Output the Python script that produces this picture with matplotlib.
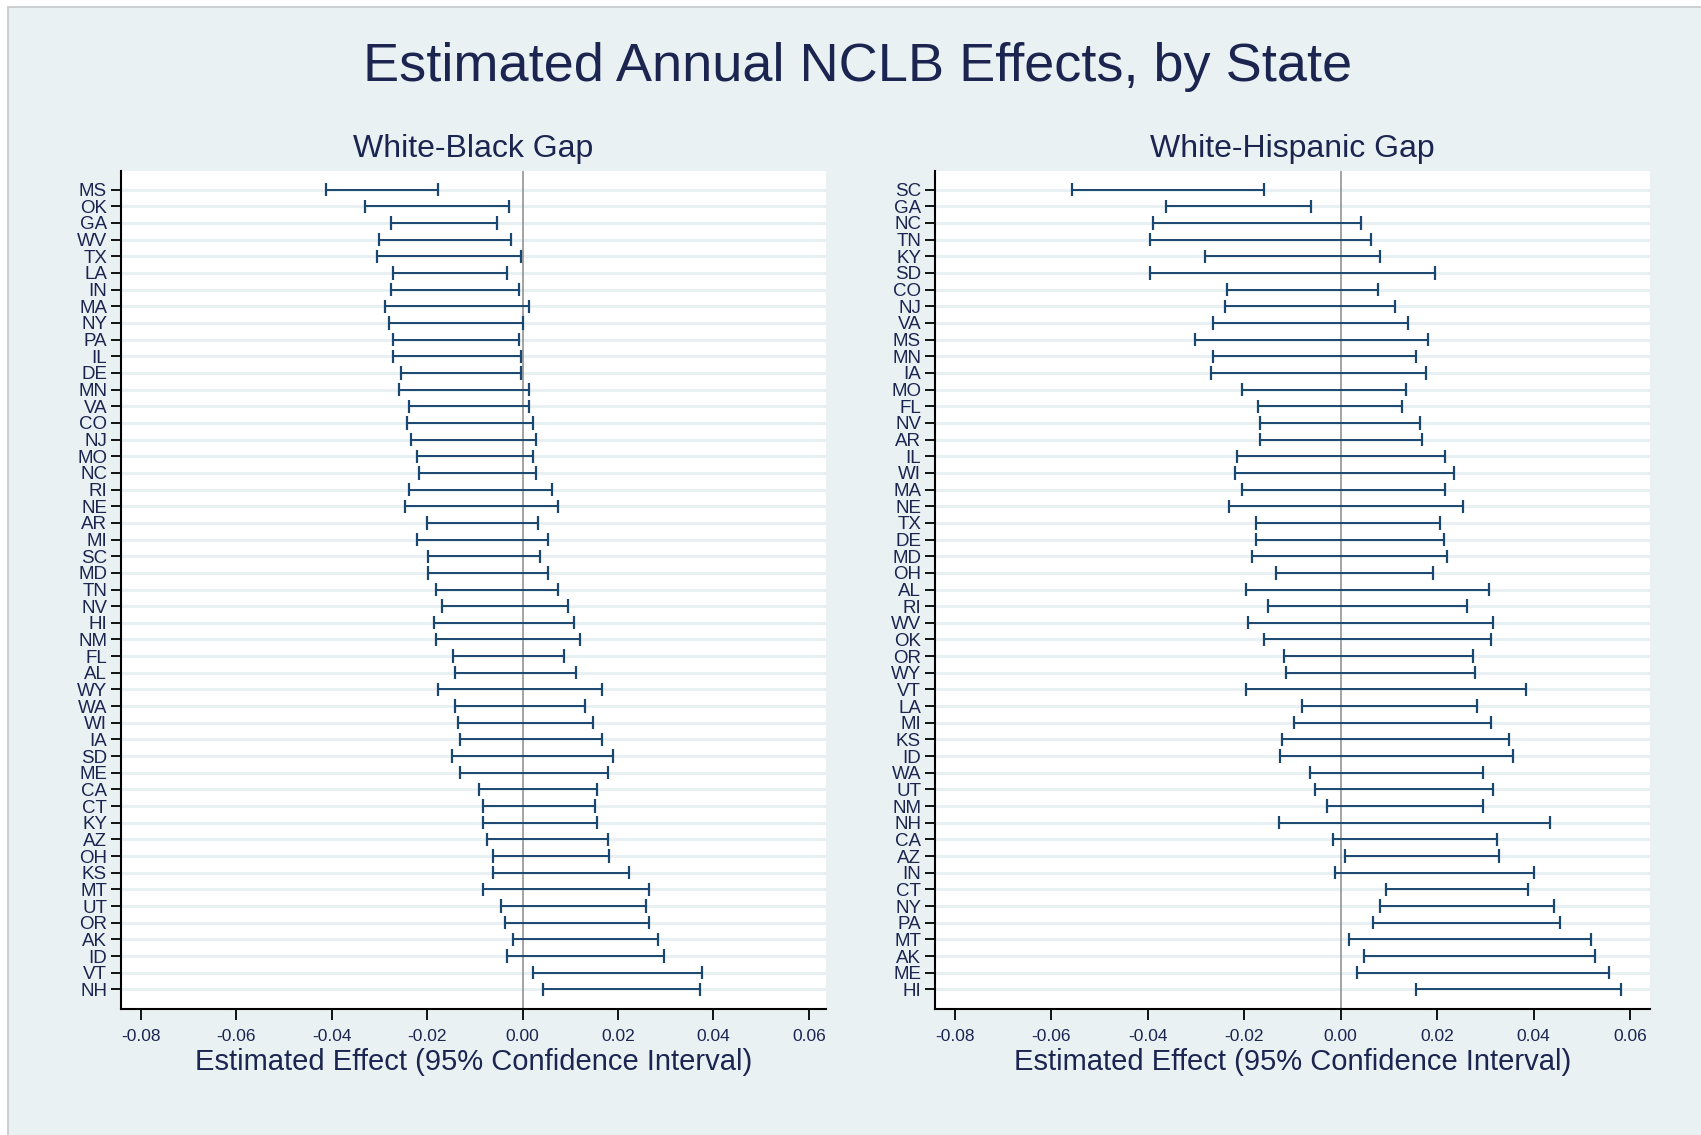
import numpy as np
import matplotlib
matplotlib.use("Agg")
import matplotlib.pyplot as plt
from matplotlib.patches import Rectangle

plt.rcParams['font.family'] = ['Liberation Sans', 'DejaVu Sans']

# White-Black gap: etats, borne basse, borne haute (IC 95%)
bw_states = ['MS', 'OK', 'GA', 'WV', 'TX', 'LA', 'IN', 'MA', 'NY', 'PA', 'IL', 'DE', 'MN',
             'VA', 'CO', 'NJ', 'MO', 'NC', 'RI', 'NE', 'AR', 'MI', 'SC', 'MD', 'TN', 'NV',
             'HI', 'NM', 'FL', 'AL', 'WY', 'WA', 'WI', 'IA', 'SD', 'ME', 'CA', 'CT', 'KY',
             'AZ', 'OH', 'KS', 'MT', 'UT', 'OR', 'AK', 'ID', 'VT', 'NH']
bw_lo = [-0.0413, -0.0330, -0.0277, -0.0301, -0.0305, -0.0272, -0.0277, -0.0289, -0.0281,
         -0.0272, -0.0272, -0.0255, -0.0259, -0.0239, -0.0243, -0.0234, -0.0222, -0.0218,
         -0.0239, -0.0247, -0.0201, -0.0222, -0.0198, -0.0198, -0.0181, -0.0169, -0.0185,
         -0.0181, -0.0145, -0.0141, -0.0177, -0.0141, -0.0136, -0.0132, -0.0149, -0.0132,
         -0.0092, -0.0083, -0.0083, -0.0075, -0.0063, -0.0063, -0.0083, -0.0046, -0.0036,
         -0.0021, -0.0032, 0.0021, 0.0042]
bw_hi = [-0.0177, -0.0028, -0.0054, -0.0024, -0.0003, -0.0032, -0.0008, 0.0013, 0.0000,
         -0.0008, -0.0003, -0.0003, 0.0013, 0.0013, 0.0021, 0.0029, 0.0021, 0.0029,
         0.0061, 0.0074, 0.0033, 0.0053, 0.0037, 0.0053, 0.0074, 0.0095, 0.0107,
         0.0120, 0.0086, 0.0111, 0.0166, 0.0131, 0.0148, 0.0166, 0.0190, 0.0178,
         0.0156, 0.0152, 0.0156, 0.0178, 0.0182, 0.0223, 0.0264, 0.0259, 0.0264,
         0.0284, 0.0297, 0.0375, 0.0371]

# White-Hispanic gap
wh_states = ['SC', 'GA', 'NC', 'TN', 'KY', 'SD', 'CO', 'NJ', 'VA', 'MS', 'MN', 'IA', 'MO',
             'FL', 'NV', 'AR', 'IL', 'WI', 'MA', 'NE', 'TX', 'DE', 'MD', 'OH', 'AL', 'RI',
             'WV', 'OK', 'OR', 'WY', 'VT', 'LA', 'MI', 'KS', 'ID', 'WA', 'UT', 'NM', 'NH',
             'CA', 'AZ', 'IN', 'CT', 'NY', 'PA', 'MT', 'AK', 'ME', 'HI']
wh_lo = [-0.0557, -0.0362, -0.0390, -0.0395, -0.0281, -0.0395, -0.0235, -0.0239, -0.0264,
         -0.0302, -0.0264, -0.0268, -0.0204, -0.0171, -0.0167, -0.0167, -0.0216, -0.0220,
         -0.0204, -0.0232, -0.0175, -0.0175, -0.0184, -0.0134, -0.0196, -0.0150, -0.0192,
         -0.0159, -0.0117, -0.0113, -0.0196, -0.0080, -0.0097, -0.0121, -0.0125, -0.0064,
         -0.0053, -0.0028, -0.0129, -0.0016, 0.0008, -0.0011, 0.0094, 0.0081, 0.0066,
         0.0017, 0.0049, 0.0033, 0.0156]
wh_hi = [-0.0159, -0.0061, 0.0042, 0.0062, 0.0082, 0.0196, 0.0078, 0.0112, 0.0140,
         0.0181, 0.0157, 0.0177, 0.0136, 0.0127, 0.0165, 0.0169, 0.0216, 0.0234,
         0.0216, 0.0254, 0.0205, 0.0213, 0.0221, 0.0192, 0.0307, 0.0262, 0.0315,
         0.0311, 0.0275, 0.0279, 0.0384, 0.0282, 0.0311, 0.0348, 0.0356, 0.0294,
         0.0315, 0.0294, 0.0433, 0.0323, 0.0327, 0.0401, 0.0388, 0.0442, 0.0454,
         0.0519, 0.0527, 0.0555, 0.0580]

xticks = [-0.08, -0.06, -0.04, -0.02, 0.00, 0.02, 0.04, 0.06]
xtick_labels = ['-0.08', '-0.06', '-0.04', '-0.02', '0.00', '0.02', '0.04', '0.06']

bg = '#e9f1f3'
navy = '#1a476f'
txt = '#1b2550'

W, H = 1701, 1135
fig = plt.figure(figsize=(W / 100, H / 100), dpi=100, facecolor='white')
# cadre de fond (derriere les axes), bords bas/droite hors image
fig.patches.append(Rectangle((8 / W, -0.02), 1.0, 1.02 - 7 / H, transform=fig.transFigure,
                             facecolor=bg, edgecolor='#c4c8ca', linewidth=1.2, zorder=-5))

fig.text(858 / W, 1 - 67 / H, "Estimated Annual NCLB Effects, by State", ha='center',
         va='center', fontsize=39, color=txt)

panels = [
    (121, 826, bw_states, bw_lo, bw_hi, "White-Black Gap", (-0.0842, 0.0636)),
    (935, 1650, wh_states, wh_lo, wh_hi, "White-Hispanic Gap", (-0.0841, 0.0641)),
]
y0, y1 = 171, 1009
for (x0, x1, states, lo, hi, sub, xl) in panels:
    ax = fig.add_axes([x0 / W, 1 - y1 / H, (x1 - x0) / W, (y1 - y0) / H])
    ax.set_facecolor('white')
    n = len(states)
    ypos = np.arange(1, n + 1)
    for y in ypos:
        ax.axhline(y, color='#e8f0f3', linewidth=2.2, zorder=1)
    ax.axvline(0, color='#8a8a8a', linewidth=1.1, zorder=2)
    ax.hlines(ypos, lo, hi, color=navy, linewidth=1.4, zorder=3)
    ax.vlines(lo, ypos - 0.4, ypos + 0.4, color=navy, linewidth=1.6, zorder=3)
    ax.vlines(hi, ypos - 0.4, ypos + 0.4, color=navy, linewidth=1.6, zorder=3)
    ax.set_ylim(n + 1.18, 1 - 1.12)
    ax.set_xlim(*xl)
    ax.set_yticks(ypos)
    ax.set_yticklabels(states, fontsize=13.5, color=txt)
    ax.set_xticks(xticks)
    ax.set_xticklabels(xtick_labels, fontsize=12.5, color=txt)
    ax.tick_params(axis='y', length=7.5, width=1.3, pad=2.5)
    ax.tick_params(axis='x', length=7.7, width=1.3, pad=7)
    for s in ['top', 'right']:
        ax.spines[s].set_visible(False)
    for s in ['left', 'bottom']:
        ax.spines[s].set_linewidth(1.5)
        ax.spines[s].set_color('black')
    ax.text(0.5, 1 + 22 / (y1 - y0), sub, transform=ax.transAxes, ha='center',
            va='center', fontsize=23, color=txt)
    ax.text(0.5, -53 / (y1 - y0), "Estimated Effect (95% Confidence Interval)",
            transform=ax.transAxes, ha='center', va='center', fontsize=21, color=txt)

plt.savefig('out.png', dpi=100, facecolor=fig.get_facecolor())
